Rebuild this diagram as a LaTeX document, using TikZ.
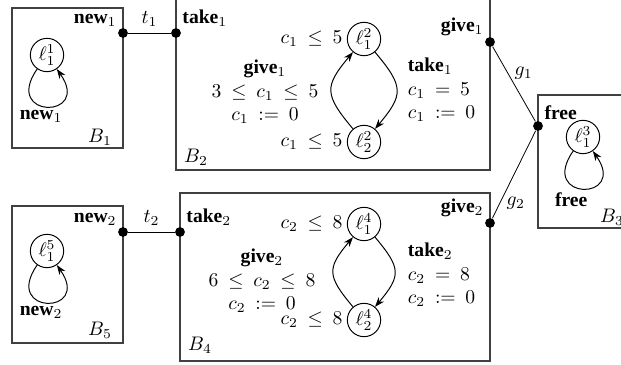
\documentclass[tikz,border=0pt]{standalone}
\usepackage{fontspec}
\setmainfont{Liberation Serif}
\usetikzlibrary{arrows.meta,positioning}
\thickmuskip=9mu plus 2mu
\tikzset{
  box/.style={draw=black!75, line width=0.6pt},
  port/.style={circle, fill=black, inner sep=0pt, minimum size=5pt},
  portlbl/.style={inner sep=1.2pt},
  loc/.style={circle, draw, line width=0.5pt, inner sep=0pt, minimum size=17pt},
  arr/.style={-{Stealth[length=5pt,width=3.6pt]}, line width=0.5pt},
  selfloop/.style={out=-125, in=-55, looseness=8, min distance=17pt},
  guard/.style={inner sep=1pt},
}

\begin{document}
\begin{tikzpicture}[x=0.51pt, y=-0.51pt]
  \useasboundingbox (0,0) rectangle (621,365);
  % components
  \draw[box] (12,8) rectangle (123,148);
  \draw[box] (176,-10) rectangle (490,170);
  \draw[box] (538,95) rectangle (650,228);
  \draw[box] (180,193) rectangle (490,361);
  \draw[box] (12,206) rectangle (123,343);
  \node (b1) at (100,137) {$B_1$};
  \node (b2) at (196,157) {$B_2$};
  \node (b3) at (612,217) {$B_3$};
  \node (b4) at (200,345) {$B_4$};
  \node (b5) at (100,330) {$B_5$};
  % ports
  \node[port] (new1) at (123,33) {};
  \node[port] (take1) at (176,33) {};
  \node[port] (give1) at (490,42) {};
  \node[port] (free) at (538,126) {};
  \node[port] (give2) at (490,223) {};
  \node[port] (new2) at (123,232) {};
  \node[port] (take2) at (180,232) {};
  \node[portlbl, above left=0pt of new1] (pnew1) {\textbf{new}$_1$};
  \node[portlbl, above right=0pt of take1] (ptake1) {\textbf{take}$_1$};
  \node[portlbl, above left=0pt of give1] (pgive1) {\textbf{give}$_1$};
  \node[portlbl, above right=0pt of free] (pfree) {\textbf{free}};
  \node[portlbl, above left=0pt of give2] (pgive2) {\textbf{give}$_2$};
  \node[portlbl, above right=0pt of take2] (ptake2) {\textbf{take}$_2$};
  \node[portlbl, above left=0pt of new2] (pnew2) {\textbf{new}$_2$};
  % interactions
  \draw (new1) -- node[above] (t1) {$t_1$} (take1);
  \draw (new2) -- node[above] (t2) {$t_2$} (take2);
  \draw (give1) -- node[right, pos=0.35] (g1) {$g_1$} (free);
  \draw (give2) -- node[right, pos=0.17] (g2) {$g_2$} (free);
  % B1, B5, B3
  \node[loc] (l11) at (47,55) {$\ell^1_1$};
  \draw[arr] (l11) to[selfloop] node[below, xshift=-3pt, inner sep=1.5pt] (e11) {\textbf{new}$_1$} (l11);
  \node[loc] (l51) at (47,251) {$\ell^5_1$};
  \draw[arr] (l51) to[selfloop] node[below, xshift=-3pt, inner sep=1.5pt] (e51) {\textbf{new}$_2$} (l51);
  \node[loc] (l31) at (583,137) {$\ell^3_1$};
  \draw[arr] (l31) to[selfloop] node[below, xshift=-6pt, inner sep=1.5pt] (e31) {\textbf{free}} (l31);
  % B2
  \node[loc] (l21) at (364,39) {$\ell^2_1$};
  \node[loc] (l22) at (364,142) {$\ell^2_2$};
  \node[guard, left=1pt of l21] (inv21) {$c_1 \leq 5$};
  \node[guard, left=1pt of l22] (inv22) {$c_1 \leq 5$};
  \draw[arr] (l22) to[bend left=40, looseness=1.5] (l21);
  \draw[arr] (l21) to[bend left=40, looseness=1.5] (l22);
  \node[align=center] (e21) at (265,92) {\textbf{give}$_1$\\$3 \leq c_1 \leq 5$\\$c_1 := 0$};
  \node[align=left, anchor=west] (e22) at (401,90) {\textbf{take}$_1$\\$c_1 = 5$\\$c_1 := 0$};
  % B4
  \node[loc] (l41) at (364,224) {$\ell^4_1$};
  \node[loc] (l42) at (364,320) {$\ell^4_2$};
  \node[guard, left=1pt of l41] (inv41) {$c_2 \leq 8$};
  \node[guard, left=1pt of l42] (inv42) {$c_2 \leq 8$};
  \draw[arr] (l42) to[bend left=40, looseness=1.5] (l41);
  \draw[arr] (l41) to[bend left=40, looseness=1.5] (l42);
  \node[align=center] (e41) at (262,281) {\textbf{give}$_2$\\$6 \leq c_2 \leq 8$\\$c_2 := 0$};
  \node[align=left, anchor=west] (e42) at (401,275) {\textbf{take}$_2$\\$c_2 = 8$\\$c_2 := 0$};
\end{tikzpicture}
\end{document}
